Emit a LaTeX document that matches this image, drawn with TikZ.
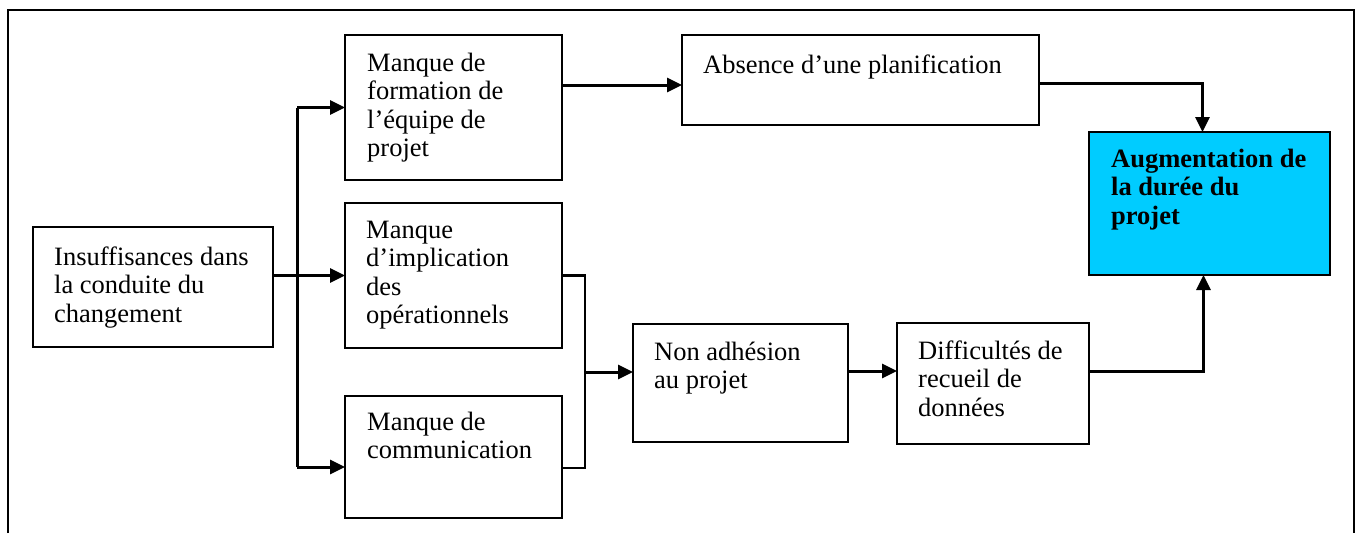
\documentclass[tikz,border=0pt]{standalone}
\usepackage{fontspec}
\setmainfont{Liberation Serif}
\usetikzlibrary{arrows.meta}
\definecolor{boxcyan}{RGB}{0,204,255}
% left-aligned block whose baseline is the baseline of its first line
\newcommand\textlines[1]{\begin{tabular}[t]{@{}l@{}}#1\end{tabular}}
\begin{document}
\begin{tikzpicture}[x=1pt,y=-1pt,
  box/.style={draw,line width=2.2pt,inner sep=0pt,outer sep=0pt,anchor=north west},
  txt/.style={anchor=base west,inner sep=0pt,font=\fontsize{26.5}{28.5}\selectfont},
  link/.style={line width=3pt},
  thinlink/.style={line width=2.2pt},
  arr/.style={link,-{Triangle[length=15pt,width=14pt]}}
]
\useasboundingbox (0,0) rectangle (1359,533);

% open frame around the chart
\draw[line width=2pt] (8,533) -- (8,10) -- (1354,10) -- (1354,533);

% boxes
\node[box,minimum width=240pt,minimum height=120pt] (ins)  at (33,227) {};
\node[box,minimum width=217pt,minimum height=145pt] (form) at (345,35) {};
\node[box,minimum width=217pt,minimum height=145pt] (impl) at (345,203) {};
\node[box,minimum width=217pt,minimum height=122pt] (comm) at (345,396) {};
\node[box,minimum width=357pt,minimum height=90pt]  (abs)  at (682,35) {};
\node[box,minimum width=215pt,minimum height=118pt] (non)  at (633,324) {};
\node[box,minimum width=192pt,minimum height=121pt] (diff) at (897,323) {};
\node[box,fill=boxcyan,minimum width=241pt,minimum height=143pt] (aug) at (1089,132) {};

% texts
\node[txt] (tins)  at (54,265)   {\textlines{Insuffisances dans\\la conduite du\\changement}};
\node[txt] (tform) at (367,71)   {\textlines{Manque de\\formation de\\l’équipe de\\projet}};
\node[txt] (timpl) at (366,238)  {\textlines{Manque\\d’implication\\des\\opérationnels}};
\node[txt] (tcomm) at (367,430)  {\textlines{Manque de\\communication}};
\node[txt] (tabs)  at (703,73)   {Absence d’une planification};
\node[txt] (tnon)  at (654,360)  {\textlines{Non adhésion\\au projet}};
\node[txt] (tdiff) at (918,359)  {\textlines{Difficultés de\\recueil de\\données}};
\node[txt,font=\fontsize{26.5}{28.5}\selectfont\bfseries] (taug) at (1111,167) {\textlines{Augmentation de\\la durée du\\projet}};

% junction points
\coordinate (bus) at (297,0);
\coordinate (busbot) at (297,467);
\coordinate (brk) at (585,0);
\coordinate (brkbot) at (585,468);
\coordinate (brkmid) at (585,372);
\coordinate (formout) at ([yshift=22.5pt]form.east);
\coordinate (absout) at ([yshift=-3pt]abs.east);
\coordinate (augtop) at ([xshift=-7pt]aug.north);
\coordinate (nonout) at ([yshift=12pt]non.east);
\coordinate (diffout) at ([yshift=12pt]diff.east);
\coordinate (augbot) at ([xshift=-6pt]aug.south);

% fan-out from the first cause
\draw[link] (bus |- form.west) -- (busbot);
\draw[arr] (ins.east |- impl.east) -- (impl.west);
\draw[arr] (bus |- form.west) -- (form.west);
\draw[arr] (busbot) -- (comm.west |- busbot);

% upper chain
\draw[arr] (formout) -- (abs.west |- formout);
\draw[arr] (absout) -| (augtop);

% bracket joining the two lower causes
\draw[thinlink] (impl.east) -- (brk |- impl.east) -- (brkbot) -- (comm.east |- brkbot);
\draw[arr] (brkmid) -- (non.west |- brkmid);

% lower chain
\draw[arr] (nonout) -- (diff.west |- nonout);
\draw[arr] (diffout) -| (augbot);
\end{tikzpicture}
\end{document}
